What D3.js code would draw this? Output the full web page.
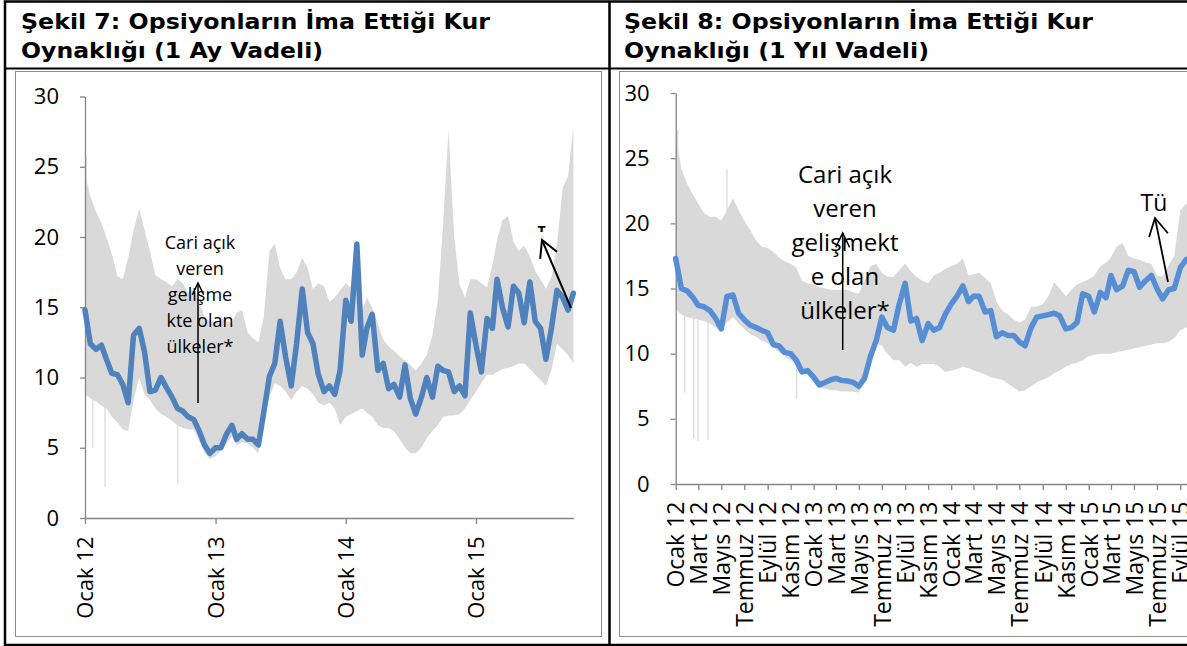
<!DOCTYPE html>
<html>
<head>
<meta charset="utf-8">
<title>Opsiyonların İma Ettiği Kur Oynaklığı</title>
<script src="https://cdn.jsdelivr.net/npm/d3@7"></script>
<style>
  body { margin: 0; background: #fff; }
  svg { display: block; }
  .title { font-family: "DejaVu Sans", sans-serif; font-weight: bold; font-size: 22px; }
  .axis text { font-family: "Open Sans", sans-serif; font-size: 22px; fill: #000; }
  .axis path, .axis line { stroke: #868686; stroke-width: 1.3px; }
  .note { font-family: "Open Sans", sans-serif; fill: #000; }
</style>
</head>
<body>
<svg id="chart" width="1187" height="646"></svg>
<script>
// semi-monthly observations, 1 Jan 2012 .. 1 Oct 2015
const dates = d3.range(91).map(i => new Date(2012, Math.floor(i / 2), i % 2 ? 16 : 1));

// Şekil 7 - 1 month implied vol: Turkey (blue) and range of peer countries (grey)
const blue1M = [14.8,12.4,12.0,12.3,11.3,10.3,10.2,9.5,8.2,13.0,
  13.5,11.8,9.0,9.1,10.0,9.3,8.6,7.8,7.6,7.2,
  7.0,6.2,5.2,4.6,5.0,5.0,6.0,6.6,5.6,6.0,
  5.6,5.6,5.2,7.5,10.1,11.0,14.0,11.5,9.4,12.4,
  16.3,13.2,12.4,10.2,9.0,9.4,8.8,10.5,15.5,14.0,
  19.5,11.6,13.5,14.5,10.5,11.0,9.2,9.5,8.6,10.9,
  8.5,7.4,8.6,10.0,8.6,10.8,10.5,10.4,9.0,9.4,
  8.7,14.6,12.3,10.4,14.2,13.5,17.0,15.0,13.6,16.5,
  16.0,13.9,16.8,14.0,13.5,11.3,13.6,16.2,15.7,14.8,
  16.0];
const high1M = [24.5,22.9,21.8,21.0,20.0,18.8,17.2,17.0,18.5,20.5,
  22.0,20.5,19.0,17.3,17.0,16.8,16.5,17.0,16.7,16.0,
  16.3,15.5,14.3,14.0,13.9,14.3,14.0,13.9,14.6,14.8,
  13.2,12.8,12.5,14.3,19.0,19.5,17.8,17.0,17.0,17.5,
  18.5,17.8,16.3,16.7,16.5,15.4,15.7,16.2,16.7,16.4,
  16.2,14.8,15.7,15.0,13.8,12.7,12.2,11.9,11.5,11.2,
  10.9,10.5,11.0,11.6,13.0,15.5,21.0,27.6,20.0,16.6,
  15.7,17.0,17.0,16.7,16.4,18.0,19.8,21.2,21.5,19.7,
  19.0,19.4,18.6,17.6,17.0,16.3,17.2,19.5,23.5,24.3,
  27.9];
const low1M = [8.8,8.5,8.3,8.0,7.8,7.2,6.8,6.3,6.2,8.4,
  10.0,8.8,8.4,7.8,7.4,7.2,6.9,6.6,6.4,6.3,
  6.3,5.5,4.6,4.2,4.4,4.8,5.3,5.8,5.2,5.4,
  5.3,5.0,4.6,6.8,8.6,9.6,9.4,9.0,8.4,9.0,
  9.4,9.2,8.8,8.2,8.0,8.2,7.8,6.6,7.2,7.4,
  7.6,7.8,7.5,7.2,6.6,6.4,6.4,6.2,5.6,5.0,
  4.6,4.6,5.0,5.7,6.2,6.6,7.2,7.3,7.3,7.4,
  7.8,8.4,9.0,9.6,10.2,10.2,10.4,10.6,10.7,10.8,
  11.0,11.0,10.6,10.2,9.8,9.4,10.6,12.4,12.0,11.6,
  11.0];
// single-day outliers of the grey range
const spikes1M = [["2012-01-04", 25.8], ["2012-01-23", 5.0], ["2012-02-26", 2.2], ["2012-09-17", 2.4]];

// Şekil 8 - 1 year implied vol
const blue1Y = [17.3,15.0,14.8,14.3,13.7,13.6,13.3,12.7,11.9,14.4,
  14.5,13.1,12.6,12.2,12.0,11.8,11.6,10.7,10.6,10.1,
  10.0,9.5,8.6,8.7,8.2,7.6,7.8,8.0,8.1,7.95,
  7.9,7.8,7.5,8.1,9.8,11.0,12.8,12.0,11.8,13.8,
  15.4,12.5,12.7,11.0,12.3,11.8,12.0,13.0,13.8,14.4,
  15.2,14.0,14.4,14.4,13.2,13.3,11.3,11.6,11.4,11.4,
  10.9,10.6,12.0,12.8,12.9,13.0,13.1,12.9,11.9,12.0,
  12.4,14.6,14.4,13.2,14.7,14.3,16.0,14.9,15.2,16.4,
  16.3,15.1,15.6,16.0,15.0,14.2,14.9,15.0,16.6,17.2,
  17.4];
const high1Y = [26.8,24.2,23.0,22.2,21.5,20.8,20.5,20.5,20.2,21.0,
  21.9,21.0,20.2,19.5,18.7,18.2,18.1,17.8,17.4,17.1,
  16.9,16.6,15.6,15.4,15.3,15.1,15.0,14.9,14.9,14.9,
  14.9,14.7,14.6,15.6,16.7,16.9,16.2,15.9,15.9,16.4,
  16.9,16.3,15.9,15.6,15.4,16.0,16.2,16.5,16.7,16.9,
  17.3,16.0,16.1,16.2,15.8,15.4,14.0,13.3,13.0,12.6,
  12.4,12.6,13.6,13.6,13.8,14.4,15.5,15.0,14.4,14.9,
  15.3,15.5,15.7,16.0,16.7,17.0,17.4,18.2,18.5,17.5,
  17.3,17.2,17.0,16.9,16.0,15.9,16.8,17.5,21.0,21.5,
  21.5];
const low1Y = [13.4,13.0,12.8,12.7,12.6,12.5,12.3,12.0,11.8,12.4,
  12.8,12.3,11.9,11.5,11.3,11.0,10.8,10.5,10.1,9.8,
  9.5,9.2,8.9,8.6,7.9,7.4,7.3,7.2,7.2,7.1,
  7.1,7.1,7.0,8.0,9.3,10.8,10.6,10.0,9.5,9.5,
  9.0,9.3,9.0,9.2,9.2,9.2,9.0,8.6,8.7,8.8,
  9.0,8.9,8.7,8.6,8.4,8.2,8.1,8.0,7.7,7.4,
  7.1,7.2,7.5,7.8,8.0,8.2,8.5,8.7,9.0,9.2,
  9.3,9.5,9.8,9.9,10.0,10.0,10.0,10.1,10.2,10.3,
  10.4,10.5,10.6,10.7,10.8,10.8,10.9,11.2,11.8,12.0,
  12.0];
const spikes1Y = [["2012-01-06", 27.2], ["2012-01-25", 7.0], ["2012-02-18", 3.5], ["2012-02-29", 3.3],
  ["2012-03-27", 3.4], ["2012-05-16", 24.2], ["2012-11-17", 6.5]];

const yTicks = [0, 5, 10, 15, 20, 25, 30];
const monthNames = ["Ocak", "Şubat", "Mart", "Nisan", "Mayıs", "Haziran",
  "Temmuz", "Ağustos", "Eylül", "Ekim", "Kasım", "Aralık"];
const noteLines1 = ["Cari açık", "veren", "gelişme", "kte olan", "ülkeler*"];
const noteLines2 = ["Cari açık", "veren", "gelişmekt", "e olan", "ülkeler*"];

const svg = d3.select("#chart");
const parse = d3.timeParse("%Y-%m-%d");

// ---- frame (table look) ----
const frame = svg.append("g");
frame.append("rect").attr("x", 15.5).attr("y", 71.5).attr("width", 586).attr("height", 565)
  .attr("fill", "none").attr("stroke", "#8c8c8c");
frame.append("rect").attr("x", 619.5).attr("y", 71.5).attr("width", 620).attr("height", 565)
  .attr("fill", "none").attr("stroke", "#8c8c8c");
frame.append("rect").attr("x", 5).attr("y", 1.5).attr("width", 1250).attr("height", 643.5)
  .attr("fill", "none").attr("stroke", "#000").attr("stroke-width", 2.5);
frame.append("line").attr("x1", 5).attr("x2", 1250).attr("y1", 68.5).attr("y2", 68.5)
  .attr("stroke", "#000").attr("stroke-width", 2);
frame.append("line").attr("x1", 609.5).attr("x2", 609.5).attr("y1", 1.5).attr("y2", 645)
  .attr("stroke", "#000").attr("stroke-width", 2.5);

function title(x, lines, widths) {
  lines.forEach((t, i) => {
    svg.append("text").attr("class", "title").attr("x", x).attr("y", 28.5 + i * 29)
      .attr("textLength", widths[i]).attr("lengthAdjust", "spacingAndGlyphs").text(t);
  });
}
title(21, ["Şekil 7: Opsiyonların İma Ettiği Kur", "Oynaklığı (1 Ay Vadeli)"], [469, 302]);
title(624, ["Şekil 8: Opsiyonların İma Ettiği Kur", "Oynaklığı (1 Yıl Vadeli)"], [469, 305]);

function arrow(g, x0, y0, x1, y1, len, ang, w) {
  g.append("line").attr("x1", x0).attr("y1", y0).attr("x2", x1).attr("y2", y1)
    .attr("stroke", "#000").attr("stroke-width", w);
  const a = Math.atan2(y0 - y1, x0 - x1);
  const p = [-1, 1].map(s => [x1 + len * Math.cos(a + s * ang), y1 + len * Math.sin(a + s * ang)]);
  g.append("path").attr("d", `M${p[0]}L${x1},${y1}L${p[1]}`)
    .attr("fill", "none").attr("stroke", "#000").attr("stroke-width", w);
}

function panel(cfg) {
  const g = svg.append("g");
  const x = d3.scaleTime().domain([dates[0], dates[dates.length - 1]]).range(cfg.xRange);
  const y = d3.scaleLinear().domain([0, 30]).range(cfg.yRange);
  const rows = dates.map((d, i) => ({ date: d, blue: cfg.blue[i], high: cfg.high[i], low: cfg.low[i] }));

  // grey range
  g.append("path").datum(rows)
    .attr("fill", "#d9d9d9")
    .attr("d", d3.area().x(d => x(d.date)).y0(d => y(d.low)).y1(d => y(d.high)));
  const mid = d3.scaleTime().domain(dates).range(rows.map(r => (r.high + r.low) / 2));
  g.selectAll(".spike").data(cfg.spikes).join("line")
    .attr("x1", d => x(parse(d[0]))).attr("x2", d => x(parse(d[0])))
    .attr("y1", d => y(d[1])).attr("y2", d => y(mid(parse(d[0]))))
    .attr("stroke", "#d9d9d9").attr("stroke-width", 1.2);

  // axes
  g.append("g").attr("class", "axis").attr("transform", `translate(${cfg.xRange[0]},0)`)
    .call(d3.axisLeft(y).tickValues(yTicks).tickSize(5).tickSizeOuter(0).tickPadding(cfg.yPad));
  const xa = g.append("g").attr("class", "axis").attr("transform", `translate(0,${cfg.yRange[0]})`)
    .call(d3.axisBottom(x).tickValues(cfg.xTicks).tickSize(6).tickSizeOuter(0)
      .tickFormat(d => monthNames[d.getMonth()] + " " + String(d.getFullYear()).slice(2)));
  xa.selectAll("text").attr("transform", "rotate(-90)").attr("x", -cfg.xPad).attr("y", 0)
    .attr("dy", "0.36em").style("text-anchor", "end").style("font-size", cfg.xFont + "px");

  // blue line
  g.append("path").datum(rows)
    .attr("fill", "none").attr("stroke", cfg.color).attr("stroke-width", 5.5)
    .attr("stroke-linejoin", "round").attr("stroke-linecap", "round")
    .attr("d", d3.line().x(d => x(d.date)).y(d => y(d.blue)));
  return g;
}

const g1 = panel({
  blue: blue1M, high: high1M, low: low1M, spikes: spikes1M, color: "#4f81bd",
  xRange: [85, 573.4], yRange: [518, 96.5], yPad: 21, xPad: 18.5, xFont: 22,
  xTicks: [0, 1, 2, 3].map(k => new Date(2012 + k, 0, 1))
});
const g2 = panel({
  blue: blue1Y, high: high1Y, low: low1Y, spikes: spikes1Y, color: "#558ed5",
  xRange: [675.7, 1191.6], yRange: [484, 93], yPad: 21, xPad: 17.5, xFont: 23,
  xTicks: d3.timeMonth.every(2).range(new Date(2012, 0, 1), new Date(2015, 9, 1))
});

// annotations
noteLines1.forEach((t, i) => g1.append("text").attr("class", "note").attr("x", 200).attr("y", 249 + i * 26)
  .attr("text-anchor", "middle").style("font-size", "18px").text(t));
arrow(g1, 198, 403, 198, 283, 13, 0.45, 1.5);
g1.append("clipPath").attr("id", "tclip").append("rect").attr("x", 530).attr("y", 220).attr("width", 25).attr("height", 12);
g1.append("text").attr("class", "note").attr("x", 541.5).attr("y", 235.5).attr("text-anchor", "middle")
  .attr("clip-path", "url(#tclip)").style("font-size", "14px").style("font-weight", "bold").text("T");
arrow(g1, 571, 308, 542, 240, 19, 0.5, 2);

noteLines2.forEach((t, i) => g2.append("text").attr("class", "note").attr("x", 845).attr("y", 183 + i * 34)
  .attr("text-anchor", "middle").style("font-size", "24px").text(t));
arrow(g2, 842.7, 350, 842.7, 233, 16, 0.45, 1.5);
g2.append("text").attr("class", "note").attr("x", 1154).attr("y", 211).attr("text-anchor", "middle")
  .style("font-size", "23px").text("Tü");
arrow(g2, 1168, 282, 1155, 218, 20, 0.5, 1.8);
</script>
</body>
</html>
